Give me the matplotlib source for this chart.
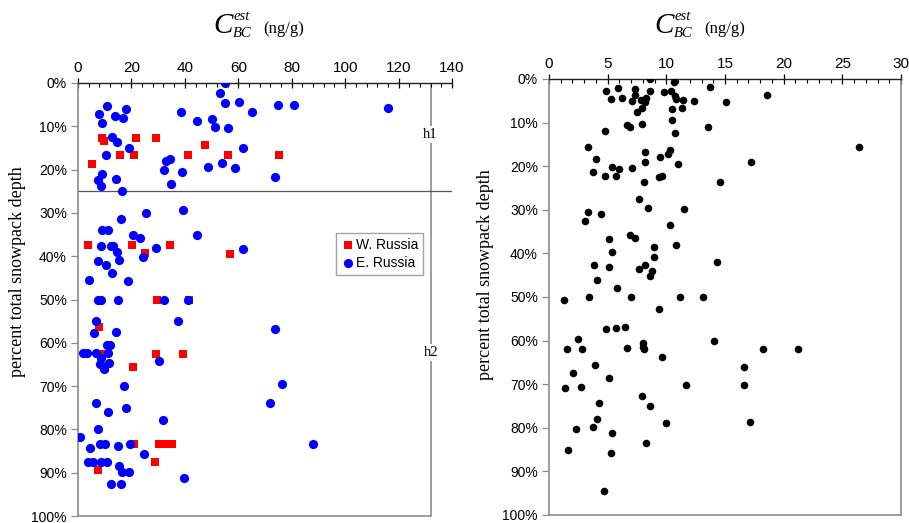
#!/usr/bin/env python3
"""Estimated BC concentration vs. percent snowpack depth, two panels."""

import matplotlib
matplotlib.use("Agg")
import matplotlib.pyplot as plt
from matplotlib.ticker import MultipleLocator, FuncFormatter

# left panel: W. Russia (red squares) and E. Russia (blue circles)
w_russia_x = [8.9, 9.9, 21.8, 29.2, 47.4, 5.2, 15.7, 20.9, 41.2, 56.0, 75.1,
              3.8, 20.4, 25.1, 34.6, 56.9, 29.5, 41.7,
              7.7, 8.9, 29.2, 39.4, 20.6, 10.2,
              20.8, 30.3, 32.6, 35.0, 28.9, 7.6]
w_russia_y = [12.6, 13.3, 12.6, 12.6, 14.4, 18.8, 16.7, 16.7, 16.7, 16.7, 16.7,
              37.5, 37.5, 39.2, 37.5, 39.6, 50.0, 50.0,
              56.3, 62.5, 62.5, 62.5, 65.5, 65.8,
              83.3, 83.3, 83.3, 83.3, 87.5, 89.4]

e_russia_x = [55.2, 53.3, 55.1, 60.4, 74.9, 80.9, 116.0, 10.8, 8.0, 18.1, 13.7,
              17.0, 9.1, 38.7, 65.2, 44.4, 50.1, 51.1, 56.0,
              12.9, 14.6, 19.2, 10.5, 61.9, 32.8, 34.3, 32.1, 39.0, 48.6, 54.0,
              58.7, 73.7, 34.7, 8.9, 7.5, 8.5, 14.3, 16.3,
              25.5, 39.4, 16.1, 8.9, 11.1, 20.6, 23.2, 44.4, 8.5, 12.2, 13.2,
              14.5, 29.2, 61.8, 24.2, 15.3, 7.6, 10.4, 12.8, 4.2, 18.6,
              7.6, 8.5, 15.1, 32.2, 41.3, 6.9, 37.5, 73.7, 6.1, 14.1,
              11.0, 12.0, 2.0, 3.2, 6.7, 11.3, 8.5, 8.3, 11.5, 9.7, 30.2,
              17.2, 76.5, 6.7, 11.3, 18.0, 72.0, 31.9, 7.3, 0.7, 4.5,
              8.2, 10.1, 14.9, 19.5, 24.7, 87.8, 3.9, 5.5, 8.7, 11.0,
              15.3, 16.3, 19.0, 12.2, 16.1, 39.7]
e_russia_y = [0.1, 2.4, 4.7, 4.5, 5.1, 5.1, 5.7, 5.2, 7.1, 6.1, 7.6,
              8.0, 9.2, 6.8, 6.8, 8.8, 8.3, 10.1, 10.4,
              12.5, 13.7, 15.1, 16.7, 15.1, 18.0, 17.6, 20.1, 20.5, 19.4, 18.5,
              19.7, 21.7, 23.4, 21.0, 22.4, 23.7, 22.1, 25.0,
              30.0, 29.4, 31.3, 34.0, 34.0, 35.1, 35.8, 35.1, 37.6, 37.6, 37.6,
              39.0, 38.2, 38.3, 40.1, 40.9, 41.2, 42.0, 43.9, 45.5, 45.7,
              50.0, 50.0, 50.0, 50.0, 50.0, 55.0, 55.0, 56.7, 57.8, 57.4,
              60.4, 60.4, 62.4, 62.4, 62.4, 62.4, 63.4, 64.9, 64.7, 66.0, 64.3,
              70.0, 69.6, 74.0, 75.9, 75.0, 73.8, 77.9, 80.0, 81.7, 84.2,
              83.3, 83.3, 83.8, 83.3, 85.7, 83.3, 87.5, 87.5, 87.5, 87.5,
              88.5, 89.9, 89.9, 92.6, 92.6, 91.3]

# right panel: all samples (black circles)
all_x = [8.6, 10.65, 13.7, 18.55, 5.9, 4.85, 5.25, 6.2, 7.3, 7.3, 7.1, 7.8,
         8.3, 8.6, 9.8, 10.4, 10.7, 10.85, 11.4, 12.4, 15.1, 11.35, 10.5, 7.9,
         7.5, 6.65, 6.9, 7.95, 4.8, 10.5, 10.75, 13.55, 26.45, 17.2, 8.2,
         3.3, 4.0, 3.75, 4.8, 5.4, 6.0, 5.75, 7.05, 8.15, 8.15, 8.1, 9.45,
         10.1, 10.35, 11.0, 9.4, 9.6, 14.55,
         7.65, 8.45, 11.5, 3.3, 4.4, 3.1, 10.35, 6.9, 7.3, 5.1, 5.4, 8.95,
         10.8, 8.95, 14.3, 3.85, 5.1, 7.65, 8.15, 8.8, 8.6, 4.1, 5.8,
         1.3, 3.4, 6.95, 11.2, 13.1, 9.4, 4.9, 5.75, 6.45, 2.45, 1.5, 2.8,
         6.65, 8.0, 8.05, 8.1, 9.65, 14.1, 18.2, 21.25, 3.95, 2.05, 5.1,
         16.6, 16.6, 11.65, 1.4, 2.7, 7.95, 8.65, 4.25, 4.05, 3.75, 2.3,
         5.35, 10.0, 17.1, 8.3, 1.6, 5.3, 4.65]
all_y = [0.0, 0.7, 1.9, 3.7, 2.0, 2.7, 4.5, 4.4, 2.3, 3.7, 5.0, 4.8,
         4.3, 2.7, 3.0, 2.8, 4.0, 4.6, 4.8, 5.0, 5.2, 6.6, 6.8, 6.6,
         7.5, 10.5, 11.1, 10.4, 11.9, 9.5, 12.3, 11.1, 15.5, 19.1, 5.2,
         15.7, 18.3, 21.4, 22.3, 20.1, 20.7, 22.3, 20.3, 16.7, 19.0, 23.7, 18.0,
         17.2, 16.2, 19.5, 22.5, 22.2, 23.7,
         27.5, 29.7, 29.8, 30.4, 31.0, 32.6, 33.4, 35.7, 36.5, 36.7, 39.7, 38.5,
         38.1, 40.9, 42.0, 42.6, 43.2, 43.5, 42.6, 44.1, 45.2, 46.1, 47.9,
         50.7, 50.0, 50.0, 50.0, 50.0, 52.7, 57.4, 57.2, 56.8, 59.6, 61.9, 61.9,
         61.8, 60.5, 61.4, 62.0, 63.7, 60.1, 61.9, 62.0, 65.6, 67.5, 68.6,
         66.1, 70.1, 70.1, 70.8, 70.6, 72.7, 75.1, 74.2, 78.0, 79.8, 80.3,
         81.2, 79.0, 78.6, 83.5, 85.1, 85.8, 94.5]

W, H = 909, 523
GREY = "#8c8c8c"
SANS = "Liberation Sans"
SERIF = "Liberation Serif"

plt.rcParams["font.family"] = SANS


def px_axes(fig, x0, y0, x1, y1):
    return fig.add_axes([x0 / W, 1 - y1 / H, (x1 - x0) / W, (y1 - y0) / H])


def style_axes(ax, xmax, xmajor, xminor):
    ax.set_xlim(0, xmax)
    ax.set_ylim(100, 0)
    ax.xaxis.tick_top()
    ax.xaxis.set_major_locator(MultipleLocator(xmajor))
    ax.xaxis.set_minor_locator(MultipleLocator(xminor))
    ax.yaxis.set_major_locator(MultipleLocator(10))
    ax.yaxis.set_major_formatter(FuncFormatter(lambda v, p: f"{v:.0f}%"))
    ax.tick_params(axis="x", which="major", direction="inout", length=7,
                   width=0.9, labelsize=11, pad=2)
    ax.tick_params(axis="x", which="minor", direction="in", length=3,
                   width=0.8)
    ax.tick_params(axis="y", which="major", direction="out", length=5,
                   width=0.9, color=GREY, labelsize=10, pad=3)
    for side in ("left", "bottom", "right"):
        ax.spines[side].set_color(GREY)
        ax.spines[side].set_linewidth(1.2)
    ax.spines["top"].set_color("#222222")
    ax.spines["top"].set_linewidth(1.0)


def axis_title(fig, x0):
    # C with stacked "est" / "BC", then the unit
    fig.text(x0 / W, 1 - 33 / H, "C", family=SERIF, style="italic",
             fontsize=21, ha="left", va="baseline")
    fig.text((x0 + 21) / W, 1 - 20 / H, "est", family=SERIF, style="italic",
             fontsize=10.5, ha="left", va="baseline")
    fig.text((x0 + 20) / W, 1 - 37 / H, "BC", family=SERIF, style="italic",
             fontsize=10.5, ha="left", va="baseline")
    fig.text((x0 + 50) / W, 1 - 33 / H, "(ng/g)", family=SERIF,
             fontsize=12, ha="left", va="baseline")


fig = plt.figure(figsize=(W / 100, H / 100), dpi=100)

# left panel
ax1 = px_axes(fig, 78, 83, 452, 516)
style_axes(ax1, 140, 20, 4)
ax1.spines["right"].set_visible(False)
ax1.spines["bottom"].set_bounds(0, 132)
ax1.axvline(132, color=GREY, lw=1.2, zorder=1)
ax1.axhline(25, color="#555555", lw=0.9, zorder=1)
for label, yv in (("h1", 11.8), ("h2", 62.3)):
    ax1.text(132, yv, label, family=SERIF, fontsize=10.5, ha="center",
             va="center", bbox=dict(fc="white", ec="none", pad=1.5), zorder=3)

ax1.scatter(w_russia_x, w_russia_y, marker="s", s=36, color="#ff0000",
            linewidths=0, label="W. Russia", zorder=4)
ax1.scatter(e_russia_x, e_russia_y, marker="o", s=44, color="#0000ff",
            linewidths=0, label="E. Russia", zorder=5)
leg = ax1.legend(loc="upper left", bbox_to_anchor=(258 / 374, 1 - 150 / 433),
                 fontsize=10, frameon=True, fancybox=False, borderpad=0.35,
                 handletextpad=0.1, handlelength=1.0, labelspacing=0.3,
                 borderaxespad=0)
leg.get_frame().set_edgecolor(GREY)
leg.get_frame().set_linewidth(1.0)

# right panel
ax2 = px_axes(fig, 549, 79, 901, 515)
style_axes(ax2, 30, 5, 1)
ax2.scatter(all_x, all_y, marker="o", s=30, color="black", linewidths=0,
            zorder=4)

axis_title(fig, 213)
axis_title(fig, 654)

for xc, yc in ((18, 272), (485, 275)):
    fig.text(xc / W, 1 - yc / H, "percent total snowpack depth",
             family=SERIF, fontsize=13, rotation=90, ha="center",
             va="center")

fig.savefig("out.png", dpi=100)
